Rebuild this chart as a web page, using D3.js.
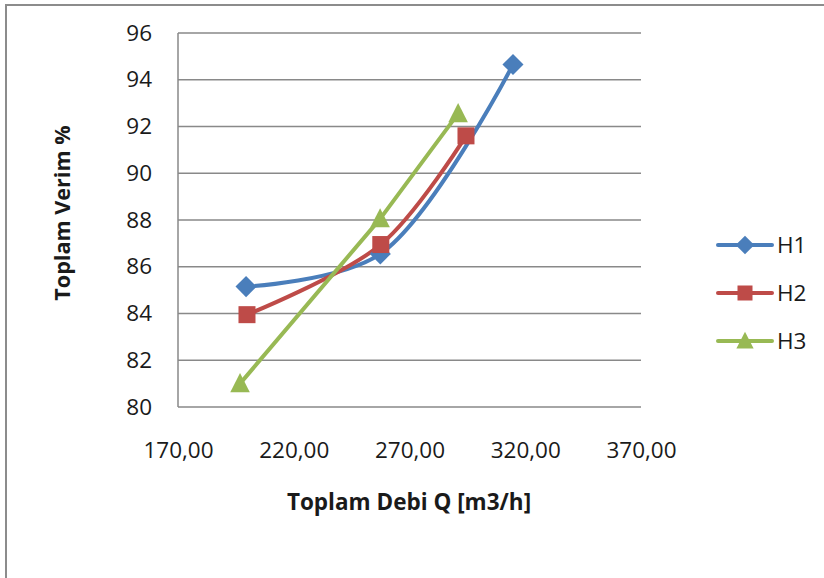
<!DOCTYPE html>
<html>
<head>
<meta charset="utf-8">
<script src="https://cdn.jsdelivr.net/npm/d3@7"></script>
<style>
  html, body { margin: 0; padding: 0; background: #fff; }
  svg { display: block; }
  text { font-family: "Open Sans", "Liberation Sans", sans-serif; fill: #1a1a1a; }
</style>
</head>
<body>
<svg id="chart" width="824" height="578"></svg>
<script>
// Total flow rate Q [m3/h] and total efficiency % for three head settings
const seriesNames = ["H1", "H2", "H3"];
const h1Flow = [199.4, 257.4, 314.7];
const h1Eff  = [85.15, 86.55, 94.65];
const h2Flow = [199.8, 257.6, 294.4];
const h2Eff  = [83.95, 86.95, 91.6];
const h3Flow = [196.8, 257.3, 291.0];
const h3Eff  = [81.0, 88.05, 92.55];

const xTicks = [170, 220, 270, 320, 370];
const yTicks = [80, 82, 84, 86, 88, 90, 92, 94, 96];

const colors = ["#4a7ebb", "#be4b48", "#98b954"];
const smooth = [true, true, false];

const series = seriesNames.map((name, i) => {
  const fx = [h1Flow, h2Flow, h3Flow][i];
  const fy = [h1Eff, h2Eff, h3Eff][i];
  return { name, color: colors[i], smooth: smooth[i], points: fx.map((x, j) => ({ x, y: fy[j] })) };
});

const svg = d3.select("#chart");
const FS = 22.5;

// outer chart frame
svg.append("path")
  .attr("d", "M6,590 L6,5 L830,5")
  .attr("fill", "none").attr("stroke", "#8c8c8c").attr("stroke-width", 2);

const plot = { left: 178, right: 641, top: 33, bottom: 407 };
const x = d3.scaleLinear().domain([170, 370]).range([plot.left, plot.right]);
const y = d3.scaleLinear().domain([80, 96]).range([plot.bottom, plot.top]);

// horizontal gridlines
svg.append("g").selectAll("line").data(yTicks).join("line")
  .attr("x1", plot.left).attr("x2", plot.right)
  .attr("y1", d => y(d)).attr("y2", d => y(d))
  .attr("stroke", "#898989").attr("stroke-width", 1.5);

// y axis line
svg.append("line")
  .attr("x1", plot.left).attr("x2", plot.left)
  .attr("y1", plot.top).attr("y2", plot.bottom)
  .attr("stroke", "#898989").attr("stroke-width", 1.5);

// y tick labels
const yAxis = d3.axisLeft(y).tickValues(yTicks).tickSize(0).tickPadding(26).tickFormat(d3.format("d"));
const gy = svg.append("g").attr("transform", `translate(${plot.left},0)`).call(yAxis);
gy.select(".domain").remove();
gy.selectAll("text").attr("font-size", FS).attr("font-family", "Open Sans, sans-serif").attr("fill", "#1a1a1a");

// x tick labels
const fmtComma = d => d.toFixed(2).replace(".", ",");
const xAxis = d3.axisBottom(x).tickValues(xTicks).tickSize(0).tickPadding(35).tickFormat(fmtComma);
const gx = svg.append("g").attr("transform", `translate(0,${plot.bottom})`).call(xAxis);
gx.select(".domain").remove();
gx.selectAll("text").attr("font-size", FS).attr("font-family", "Open Sans, sans-serif").attr("fill", "#1a1a1a");

// axis titles
svg.append("text")
  .attr("x", 409).attr("y", 510)
  .attr("text-anchor", "middle")
  .attr("font-size", FS).attr("font-weight", "bold")
  .text("Toplam Debi Q [m3/h]");

svg.append("text")
  .attr("transform", "translate(70,213) rotate(-90)")
  .attr("text-anchor", "middle")
  .attr("font-size", FS * 0.96).attr("font-weight", "bold")
  .text("Toplam Verim %");

// markers
function drawMarker(g, i, cx, cy, s) {
  if (i === 0) {
    const r = s * 0.62;
    g.append("path").attr("d", `M${cx},${cy - r}L${cx + r},${cy}L${cx},${cy + r}L${cx - r},${cy}Z`).attr("fill", colors[i]);
  } else if (i === 1) {
    g.append("rect").attr("x", cx - s / 2).attr("y", cy - s / 2).attr("width", s).attr("height", s).attr("fill", colors[i]);
  } else {
    const h = s * 1.0, w = s * 1.15;
    g.append("path").attr("d", `M${cx},${cy - h * 0.62}L${cx + w / 2},${cy + h * 0.5}L${cx - w / 2},${cy + h * 0.5}Z`).attr("fill", colors[i]);
  }
}

// series lines and markers
series.forEach((s, i) => {
  const line = d3.line()
    .x(d => x(d.x)).y(d => y(d.y))
    .curve(s.smooth ? d3.curveCatmullRom.alpha(0.5) : d3.curveLinear);
  svg.append("path").datum(s.points)
    .attr("d", line)
    .attr("fill", "none").attr("stroke", s.color)
    .attr("stroke-width", 4).attr("stroke-linejoin", "round").attr("stroke-linecap", "round");
});
series.forEach((s, i) => {
  const g = svg.append("g");
  s.points.forEach(p => drawMarker(g, i, x(p.x), y(p.y), 17));
});

// legend
const legendY = [245, 293, 341];
series.forEach((s, i) => {
  const g = svg.append("g");
  g.append("line").attr("x1", 718).attr("x2", 772).attr("y1", legendY[i]).attr("y2", legendY[i])
    .attr("stroke", s.color).attr("stroke-width", 4).attr("stroke-linecap", "round");
  drawMarker(g, i, 745, legendY[i], 15);
  g.append("text").attr("x", 777).attr("y", legendY[i] + 8)
    .attr("font-size", FS).text(s.name);
});
</script>
</body>
</html>
